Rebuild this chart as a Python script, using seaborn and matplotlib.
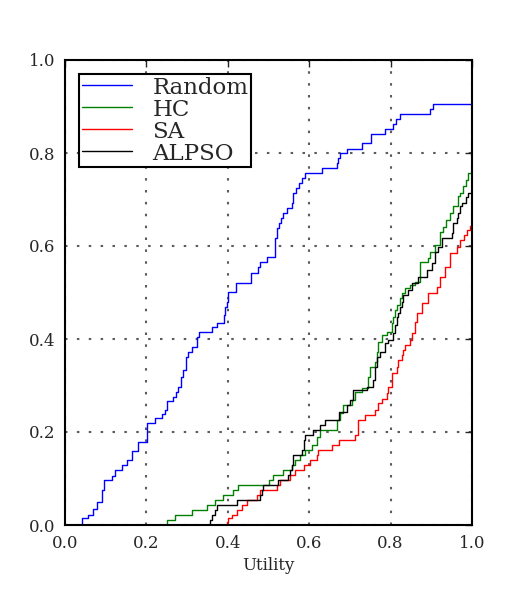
import pandas as pd
import seaborn as sns
import matplotlib
matplotlib.use("Agg")
import matplotlib.pyplot as plt

# step breakpoints (utility where curve jumps, cumulative fraction after the jump)
random_u = [0.0, 0.042, 0.057, 0.069, 0.079, 0.091, 0.096, 0.115, 0.123, 0.140, 0.152, 0.165, 0.179,
            0.201, 0.221, 0.238, 0.246, 0.251, 0.265, 0.273, 0.278, 0.285, 0.290, 0.297, 0.302,
            0.312, 0.324, 0.329, 0.361, 0.373, 0.391, 0.393, 0.398, 0.400, 0.420, 0.457, 0.474,
            0.479, 0.496, 0.516, 0.521, 0.526, 0.531, 0.536, 0.545, 0.558, 0.560, 0.568, 0.575,
            0.582, 0.590, 0.631, 0.668, 0.671, 0.676, 0.693, 0.730, 0.752, 0.786, 0.806, 0.813,
            0.823, 0.897, 0.904, 1.0, 1.0]
random_f = [0.0, 0.015, 0.022, 0.034, 0.049, 0.075, 0.097, 0.105, 0.118, 0.129, 0.140, 0.159, 0.178,
            0.219, 0.230, 0.239, 0.247, 0.267, 0.275, 0.286, 0.297, 0.318, 0.333, 0.361, 0.372,
            0.383, 0.404, 0.415, 0.426, 0.434, 0.452, 0.469, 0.480, 0.501, 0.520, 0.542, 0.555,
            0.566, 0.576, 0.617, 0.639, 0.649, 0.660, 0.671, 0.682, 0.692, 0.714, 0.725, 0.735,
            0.746, 0.757, 0.768, 0.778, 0.789, 0.800, 0.809, 0.822, 0.841, 0.852, 0.862, 0.873,
            0.884, 0.895, 0.905, 0.905, 1.0]

hc_u = [0.0, 0.251, 0.270, 0.312, 0.349, 0.369, 0.388, 0.413, 0.425, 0.501, 0.511, 0.536, 0.558,
        0.565, 0.577, 0.590, 0.607, 0.619, 0.627, 0.668, 0.676, 0.683, 0.705, 0.713, 0.730,
        0.744, 0.749, 0.762, 0.767, 0.769, 0.779, 0.791, 0.803, 0.806, 0.811, 0.816, 0.823,
        0.828, 0.835, 0.848, 0.860, 0.872, 0.892, 0.897, 0.909, 0.921, 0.929, 0.936, 0.946,
        0.953, 0.966, 0.971, 0.978, 0.985, 0.990, 1.0, 1.0]
hc_f = [0.0, 0.011, 0.022, 0.032, 0.043, 0.054, 0.065, 0.075, 0.086, 0.097, 0.108, 0.118, 0.129,
        0.140, 0.151, 0.161, 0.172, 0.189, 0.204, 0.226, 0.241, 0.258, 0.269, 0.286, 0.295,
        0.318, 0.340, 0.351, 0.372, 0.394, 0.409, 0.415, 0.434, 0.447, 0.462, 0.473, 0.488,
        0.499, 0.510, 0.516, 0.523, 0.566, 0.574, 0.587, 0.602, 0.630, 0.641, 0.656, 0.671,
        0.686, 0.708, 0.714, 0.729, 0.742, 0.757, 0.757, 1.0]

sa_u = [0.0, 0.398, 0.401, 0.410, 0.422, 0.434, 0.446, 0.471, 0.479, 0.520, 0.528, 0.553, 0.565,
        0.586, 0.602, 0.618, 0.622, 0.655, 0.672, 0.713, 0.720, 0.737, 0.762, 0.770, 0.778,
        0.790, 0.794, 0.803, 0.815, 0.819, 0.827, 0.831, 0.835, 0.848, 0.852, 0.860, 0.864,
        0.876, 0.893, 0.913, 0.921, 0.934, 0.946, 0.962, 0.971, 0.980, 0.987, 0.995, 1.0, 1.0]
sa_f = [0.0, 0.007, 0.014, 0.022, 0.032, 0.043, 0.054, 0.065, 0.075, 0.086, 0.097, 0.108, 0.118,
        0.129, 0.140, 0.151, 0.161, 0.172, 0.183, 0.194, 0.226, 0.237, 0.247, 0.262, 0.272,
        0.283, 0.297, 0.326, 0.340, 0.355, 0.366, 0.376, 0.387, 0.398, 0.412, 0.437, 0.455,
        0.477, 0.498, 0.512, 0.534, 0.555, 0.584, 0.598, 0.613, 0.624, 0.634, 0.642, 0.642, 1.0]

alpso_u = [0.0, 0.356, 0.361, 0.369, 0.373, 0.422, 0.479, 0.483, 0.487, 0.524, 0.549, 0.553, 0.557,
           0.561, 0.582, 0.586, 0.590, 0.610, 0.627, 0.639, 0.672, 0.692, 0.700, 0.708, 0.741,
           0.757, 0.762, 0.766, 0.774, 0.786, 0.794, 0.807, 0.811, 0.816, 0.818, 0.823, 0.828,
           0.830, 0.843, 0.853, 0.868, 0.889, 0.901, 0.909, 0.917, 0.926, 0.950, 0.954, 0.962,
           0.966, 0.971, 0.975, 0.985, 0.991, 1.0, 1.0]
alpso_f = [0.0, 0.011, 0.022, 0.032, 0.043, 0.054, 0.065, 0.075, 0.086, 0.097, 0.108, 0.118, 0.129,
           0.151, 0.161, 0.183, 0.194, 0.204, 0.215, 0.226, 0.244, 0.258, 0.269, 0.290, 0.297,
           0.312, 0.340, 0.362, 0.373, 0.391, 0.398, 0.412, 0.430, 0.447, 0.456, 0.469, 0.480,
           0.495, 0.505, 0.520, 0.534, 0.548, 0.563, 0.588, 0.598, 0.617, 0.627, 0.649, 0.660,
           0.671, 0.685, 0.692, 0.706, 0.713, 0.713, 1.0]

methods = ["Random", "HC", "SA", "ALPSO"]
colors = ["#0000ff", "#008000", "#ff0000", "#000000"]

frames = []
for name, u, f in zip(methods, [random_u, hc_u, sa_u, alpso_u], [random_f, hc_f, sa_f, alpso_f]):
    frames.append(pd.DataFrame({"utility": u, "fraction": f, "method": name}))
df = pd.concat(frames, ignore_index=True)

sns.set_style("white")
plt.rcParams["font.family"] = ["DejaVu Serif"]

fig = plt.figure(figsize=(5.25, 6), dpi=100)
ax = fig.add_axes([65 / 525, 1 - 525 / 600, 407 / 525, 465 / 600])

sns.lineplot(data=df, x="utility", y="fraction", hue="method", hue_order=methods,
             palette=colors, sort=False, estimator=None, drawstyle="steps-post",
             linewidth=1, ax=ax)

ax.set_xlim(0, 1)
ax.set_ylim(0, 1)
ax.set_xticks([0, 0.2, 0.4, 0.6, 0.8, 1.0])
ax.set_yticks([0, 0.2, 0.4, 0.6, 0.8, 1.0])
ax.set_xticklabels(["0.0", "0.2", "0.4", "0.6", "0.8", "1.0"])
ax.set_yticklabels(["0.0", "0.2", "0.4", "0.6", "0.8", "1.0"])
ax.set_xlabel("Utility", fontsize=12)
ax.set_ylabel("")
ax.grid(True, linestyle=(0, (1.2, 4.5)), color="#333333", linewidth=1.5, alpha=0.8)
ax.tick_params(direction="in", length=5, width=1, labelsize=12, top=True, right=True, pad=7)
for s in ax.spines.values():
    s.set_color("black")
    s.set_linewidth(1.5)

leg = ax.legend(loc="upper left", fontsize=16.5, frameon=True, fancybox=False,
                handlelength=2.2, borderpad=0.12, labelspacing=0.0, handletextpad=0.9,
                borderaxespad=0.6)
leg.get_frame().set_edgecolor("black")
leg.get_frame().set_linewidth(1.5)
leg.get_frame().set_alpha(1)

fig.savefig("out.png", dpi=100)
